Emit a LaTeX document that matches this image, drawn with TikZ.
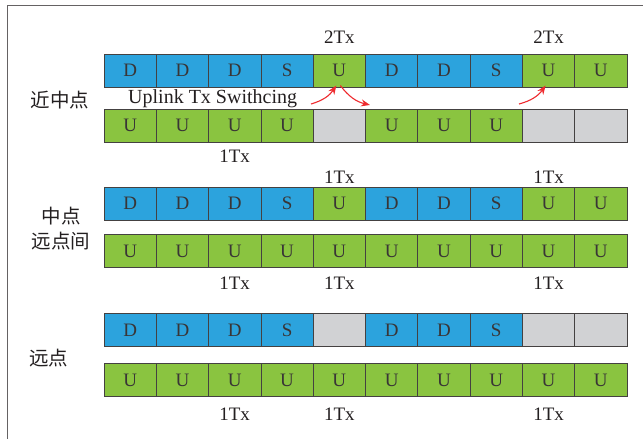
\documentclass[tikz,border=0pt]{standalone}
\usepackage{fontspec}
\setmainfont{Liberation Serif}
\newfontfamily\cjk{Noto Sans CJK SC}
\definecolor{cblue}{HTML}{2CA3DD}
\definecolor{cgreen}{HTML}{8AC440}
\definecolor{cgray}{HTML}{D1D2D4}
\definecolor{ink}{HTML}{231F20}
\definecolor{arr}{HTML}{EE2A2E}
\usetikzlibrary{arrows.meta}
\begin{document}
\begin{tikzpicture}[x=1pt,y=-1pt,
  cell/.style={draw=ink!85, line width=0.7pt, minimum width=52.3pt, minimum height=33pt,
    inner sep=0pt, outer sep=0pt, text=ink!90, font=\fontsize{19}{19}\selectfont},
  B/.style={cell, fill=cblue},
  G/.style={cell, fill=cgreen},
  E/.style={cell, fill=cgray},
  lbl/.style={text=ink, font=\fontsize{19}{19}\selectfont, inner sep=0pt},
  zh/.style={text=ink, font=\cjk\fontsize{19.5}{25}\selectfont, inner sep=0pt, align=center},
  sw/.style={-{Stealth[length=9pt,width=7pt]}, draw=arr, line width=1.1pt}]
\useasboundingbox (0,0) rectangle (643,439);
\draw[ink!70, line width=0.8pt] (7,439) -- (7,5) -- (643,5);
% rows
\foreach \r/\y/\lst in {1/70.5/{B/D,B/D,B/D,B/S,G/U,B/D,B/D,B/S,G/U,G/U},
                        2/125.5/{G/U,G/U,G/U,G/U,E/{},G/U,G/U,G/U,E/{},E/{}},
                        3/203.5/{B/D,B/D,B/D,B/S,G/U,B/D,B/D,B/S,G/U,G/U},
                        4/251/{G/U,G/U,G/U,G/U,G/U,G/U,G/U,G/U,G/U,G/U},
                        5/330/{B/D,B/D,B/D,B/S,E/{},B/D,B/D,B/S,E/{},E/{}},
                        6/380/{G/U,G/U,G/U,G/U,G/U,G/U,G/U,G/U,G/U,G/U}}{
  \foreach \s/\t [count=\c] in \lst {
    \node[\s] (r\r c\c) at ({104+(\c-0.5)*52.3},\y) {\t};
  }
}
% Tx labels
\node[lbl] (t1) at (339.4,37) {2Tx};
\node[lbl] (t2) at (548.6,37) {2Tx};
\node[lbl] (t3) at (234.6,156) {1Tx};
\node[lbl] (t4) at (339.4,177) {1Tx};
\node[lbl] (t5) at (548.6,177) {1Tx};
\node[lbl] (t6) at (234.6,283) {1Tx};
\node[lbl] (t7) at (339.4,283) {1Tx};
\node[lbl] (t8) at (548.6,283) {1Tx};
\node[lbl] (t9) at (234.6,414) {1Tx};
\node[lbl] (t10) at (339.4,414) {1Tx};
\node[lbl] (t11) at (548.6,414) {1Tx};
% switching text
\node[lbl, anchor=west, font=\fontsize{20}{20}\selectfont] (swt) at (128,99) {Uplink Tx Swithcing};
% side labels
\node[zh] (z1) at (60,100) {近中点};
\node[zh] (z2) at (61,229) {中点\\远点间};
\node[zh] (z3) at (49,358) {远点};
% arrows
\coordinate (a1) at (311,104);
\coordinate (a3) at (519,104);
\coordinate (b2) at (370,105);
\draw[sw] (a1) to[bend right=20] ([xshift=-3pt,yshift=1.5pt]r1c5.south);
\draw[sw] ([xshift=1pt,yshift=1.5pt]r1c5.south) to[bend right=20] (b2);
\draw[sw] (a3) to[bend right=20] ([xshift=-3pt,yshift=1.5pt]r1c9.south);
\end{tikzpicture}
\end{document}
